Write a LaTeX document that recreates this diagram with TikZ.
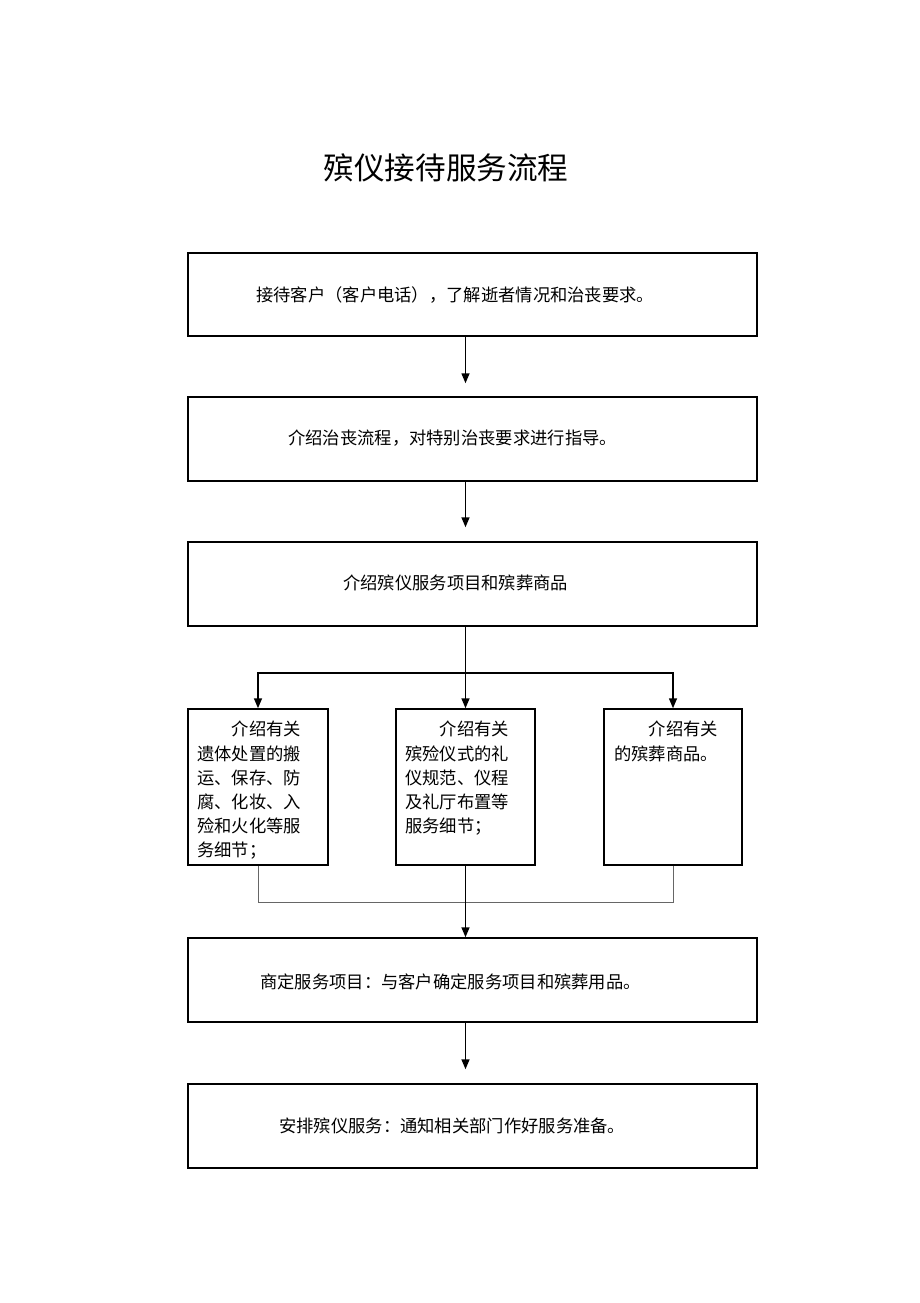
\documentclass[tikz,border=0pt]{standalone}
\usepackage{fontspec}
\setmainfont{Noto Sans CJK SC}
\usetikzlibrary{arrows.meta}
\begin{document}
\begin{tikzpicture}[x=1pt,y=-1pt,
  box/.style={draw=black,line width=1.5pt,inner sep=0pt},
  txt/.style={inner sep=0pt,font=\fontsize{17.3}{24.2}\selectfont},
  arr/.style={draw=black,line width=1.5pt,-{Triangle[length=10pt,width=8pt]}},
  thinl/.style={draw=black!60,line width=1pt}]
\useasboundingbox (0,0) rectangle (920,1303);
\node[font=\fontsize{30.6}{36}\selectfont] (title) at (446,168) {殡仪接待服务流程};
% big boxes
\node[box,minimum width=569pt,minimum height=83pt] (b1) at (472.5,294.5) {};
\node[txt,anchor=west] (t1) at (256,295) {接待客户（客户电话），了解逝者情况和治丧要求。};
\node[box,minimum width=569pt,minimum height=84pt] (b2) at (472.5,439) {};
\node[txt,anchor=west] (t2) at (288,438) {介绍治丧流程，对特别治丧要求进行指导。};
\node[box,minimum width=569pt,minimum height=84pt] (b3) at (472.5,584) {};
\node[txt,anchor=west] (t3) at (343,583) {介绍殡仪服务项目和殡葬商品};
% small boxes
\node[box,minimum width=140pt,minimum height=156pt] (l) at (258,787) {};
\node[box,minimum width=139pt,minimum height=156pt] (m) at (465.5,787) {};
\node[box,minimum width=138pt,minimum height=156pt] (r) at (673,787) {};
\node[txt,anchor=north west,align=left] (tl) at (197,721) {\hspace*{2em}介绍有关\\遗体处置的搬\\运、保存、防\\腐、化妆、入\\殓和火化等服\\务细节；};
\node[txt,anchor=north west,align=left] (tm) at (405,721) {\hspace*{2em}介绍有关\\殡殓仪式的礼\\仪规范、仪程\\及礼厅布置等\\服务细节；};
\node[txt,anchor=north west,align=left] (tr) at (614,721) {\hspace*{2em}介绍有关\\的殡葬商品。};
% lower boxes
\node[box,minimum width=569pt,minimum height=84pt] (b5) at (472.5,980) {};
\node[txt,anchor=west] (t5) at (260,982) {商定服务项目：与客户确定服务项目和殡葬用品。};
\node[box,minimum width=569pt,minimum height=84pt] (b6) at (472.5,1126) {};
\node[txt,anchor=west] (t6) at (279,1126) {安排殡仪服务：通知相关部门作好服务准备。};
% connectors
\coordinate (split) at (465.5,673);
\coordinate (join) at (465.5,902);
\draw[arr,shorten >=13pt] (m.north |- b1.south) -- (m.north |- b2.north);
\draw[arr,shorten >=14pt] (m.north |- b2.south) -- (m.north |- b3.north);
\draw[arr] (m.north |- b3.south) -- (m.north);
\draw[arr] (split) -| (l.north);
\draw[arr] (split) -| (r.north);
\draw[thinl] (l.south) |- (join) -| (r.south);
\draw[arr] (m.south) -- (m.south |- b5.north);
\draw[arr,shorten >=14pt] (m.south |- b5.south) -- (m.south |- b6.north);
\end{tikzpicture}
\end{document}
